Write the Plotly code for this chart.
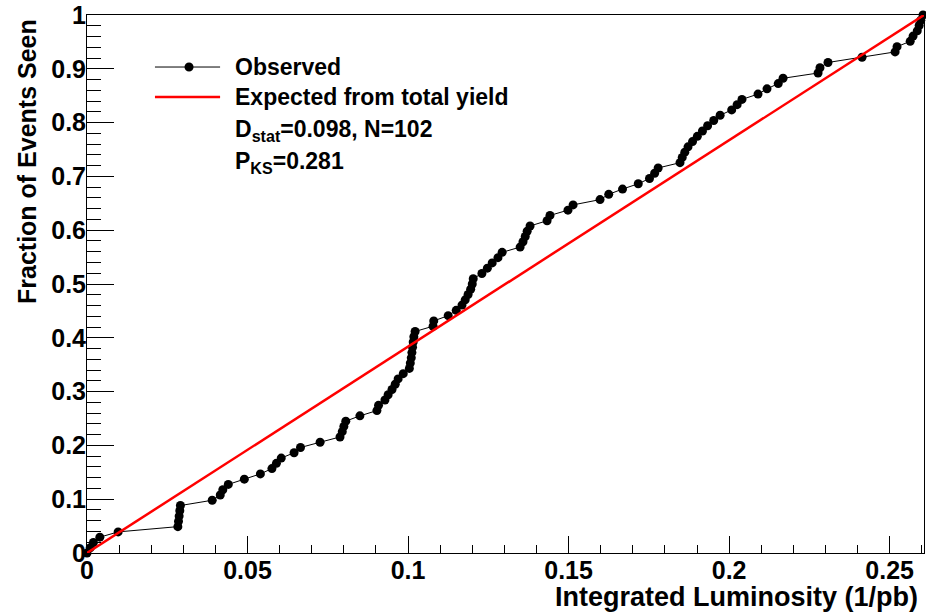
import plotly.graph_objects as go

# Observed cumulative events: luminosity at which each event was seen
obs_lumi = [0.0,
    0.0010, 0.0020, 0.0040, 0.0097, 0.0283, 0.0285, 0.0287, 0.0289, 0.0291, 0.0390,
    0.0415, 0.0423, 0.0440, 0.0490, 0.0540, 0.0576, 0.0590, 0.0605, 0.0645, 0.0665,
    0.0726, 0.0788, 0.0795, 0.0800, 0.0806, 0.0850, 0.0903, 0.0908, 0.0928, 0.0938,
    0.0950, 0.0960, 0.0969, 0.0985, 0.1004, 0.1007, 0.1010, 0.1012, 0.1014, 0.1016,
    0.1018, 0.1022, 0.1078, 0.1080, 0.1125, 0.1150, 0.1168, 0.1178, 0.1187, 0.1195,
    0.1200, 0.1203, 0.1230, 0.1247, 0.1262, 0.1280, 0.1293, 0.1349, 0.1358, 0.1365,
    0.1371, 0.1380, 0.1433, 0.1442, 0.1498, 0.1514, 0.1598, 0.1625, 0.1668, 0.1717,
    0.1752, 0.1768, 0.1779, 0.1847, 0.1854, 0.1862, 0.1872, 0.1886, 0.1901, 0.1917,
    0.1933, 0.1952, 0.1972, 0.2008, 0.2025, 0.2040, 0.2090, 0.2118, 0.2153, 0.2168,
    0.2277, 0.2283, 0.2308, 0.2414, 0.2517, 0.2523, 0.2564, 0.2573, 0.2586, 0.2592,
    0.2597, 0.2604]
n_events = 102
obs_frac = [i / n_events for i in range(len(obs_lumi))]

total_lumi = 0.2607
exp_lumi = [0.0, total_lumi]
exp_frac = [0.0, 1.0]

x_ticks = [0, 0.05, 0.1, 0.15, 0.2, 0.25]
y_ticks = [0, 0.1, 0.2, 0.3, 0.4, 0.5, 0.6, 0.7, 0.8, 0.9, 1.0]

FONT = "Liberation Sans"
BOLD = lambda s: "<b>" + s + "</b>"

fig = go.Figure()
fig.add_trace(go.Scatter(x=obs_lumi, y=obs_frac, mode="lines+markers",
                         line=dict(color="black", width=1),
                         marker=dict(color="black", size=9),
                         showlegend=False, cliponaxis=False))
fig.add_trace(go.Scatter(x=exp_lumi, y=exp_frac, mode="lines",
                         line=dict(color="#ff0000", width=2.5),
                         showlegend=False))

axis_common = dict(showgrid=False, zeroline=False, showline=True, mirror=True,
                   linecolor="black", linewidth=1, ticks="inside", tickcolor="black",
                   automargin=False, ticklabelstandoff=-5,
                   tickfont=dict(family=FONT, size=25, color="black"))

fig.update_xaxes(range=[0, total_lumi], tickvals=x_ticks,
                 ticktext=[BOLD(str(v)) for v in x_ticks], ticklen=17,
                 minor=dict(dtick=0.01, ticks="inside", ticklen=8, tickcolor="black"),
                 **axis_common)
fig.update_yaxes(range=[0, 1], tickvals=y_ticks,
                 ticktext=[BOLD("%g" % v) for v in y_ticks], ticklen=27,
                 minor=dict(dtick=0.02, ticks="inside", ticklen=14, tickcolor="black"),
                 **axis_common)

annotations = [
    dict(text=BOLD("Integrated Luminosity (1/pb)"), xref="paper", yref="paper",
         x=0.995, y=-0.081, xanchor="right", yanchor="middle", showarrow=False,
         font=dict(family=FONT, size=27, color="black")),
    dict(text=BOLD("Fraction of Events Seen"), xref="paper", yref="paper",
         x=-0.0717, y=0.7286, xanchor="center", yanchor="middle", textangle=-90,
         showarrow=False, font=dict(family=FONT, size=25, color="black")),
    dict(text=BOLD("Observed"), xref="paper", yref="paper", x=0.1744, y=0.9033,
         xanchor="left", yanchor="middle", showarrow=False,
         font=dict(family=FONT, size=23, color="black")),
    dict(text=BOLD("Expected from total yield"), xref="paper", yref="paper",
         x=0.1744, y=0.8476, xanchor="left", yanchor="middle", showarrow=False,
         font=dict(family=FONT, size=23, color="black")),
    dict(text=BOLD("D<sub>stat</sub>=0.098, N=102"), xref="paper", yref="paper",
         x=0.1744, y=0.785, xanchor="left", yanchor="middle", showarrow=False,
         font=dict(family=FONT, size=23, color="black")),
    dict(text=BOLD("P<sub>KS</sub>=0.281"), xref="paper", yref="paper",
         x=0.1744, y=0.725, xanchor="left", yanchor="middle", showarrow=False,
         font=dict(family=FONT, size=23, color="black")),
]

shapes = [
    dict(type="line", xref="paper", yref="paper", x0=0.0812, x1=0.159,
         y0=0.9033, y1=0.9033, line=dict(color="black", width=1)),
    dict(type="circle", xref="paper", yref="paper", x0=0.1219 - 0.0054, x1=0.1219 + 0.0054,
         y0=0.9033 - 0.0084, y1=0.9033 + 0.0084, fillcolor="black",
         line=dict(color="black", width=0)),
    dict(type="line", xref="paper", yref="paper", x0=0.0812, x1=0.159,
         y0=0.8476, y1=0.8476, line=dict(color="#ff0000", width=2.5)),
]

fig.update_layout(width=926, height=614, margin=dict(l=87, r=2, t=15, b=61),
                  paper_bgcolor="white", plot_bgcolor="white",
                  annotations=annotations, shapes=shapes, showlegend=False)

fig.write_html("out.html", config={"displayModeBar": False},
               post_script="document.body.style.margin='0';document.body.style.overflow='hidden';")
